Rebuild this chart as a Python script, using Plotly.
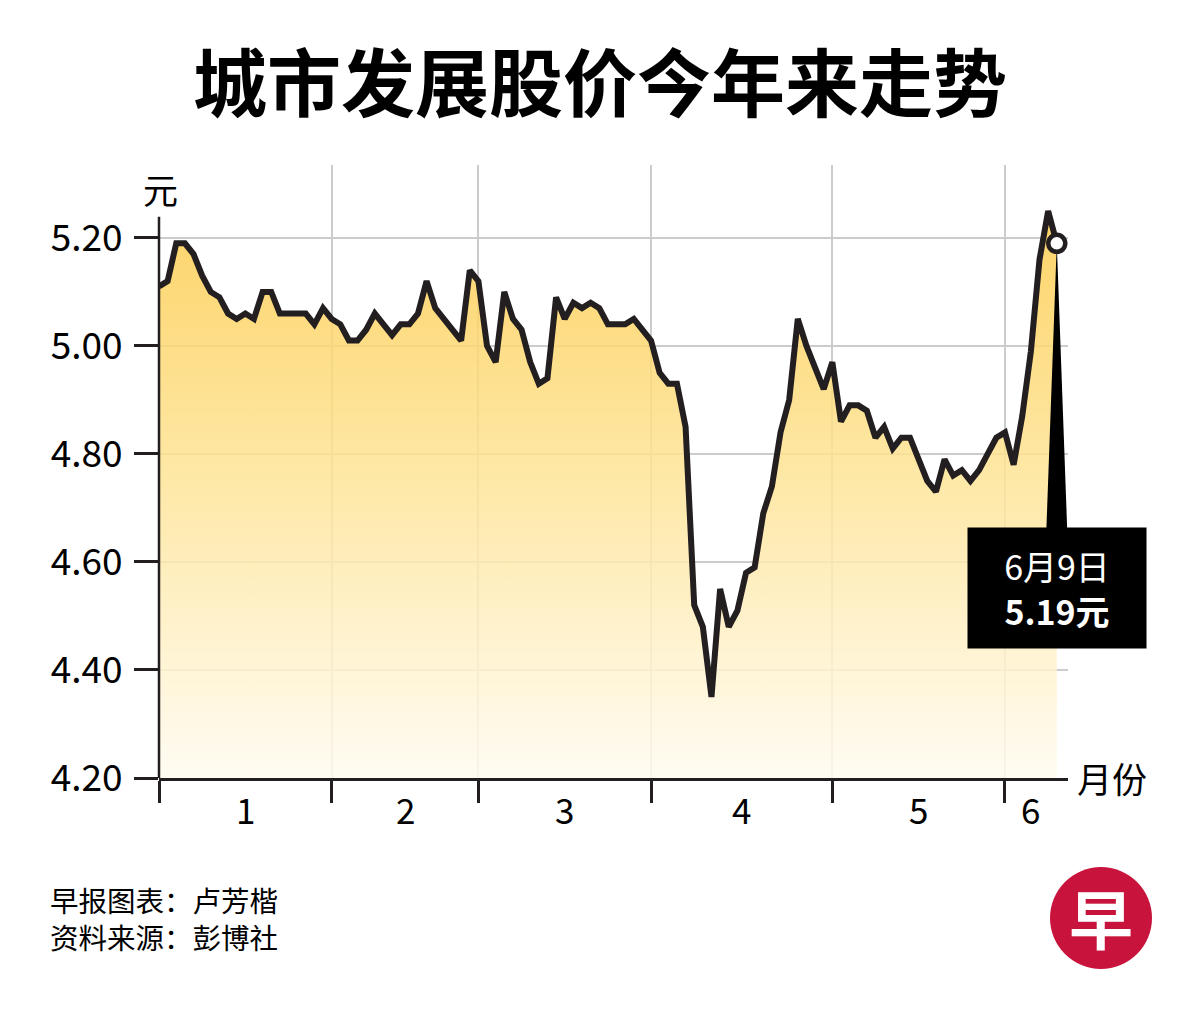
import plotly.graph_objects as go

# 城市发展 closing prices, one point per trading day
prices = [
    5.11, 5.12, 5.19, 5.19, 5.17, 5.13, 5.10, 5.09, 5.06, 5.05,
    5.06, 5.05, 5.10, 5.10, 5.06, 5.06, 5.06, 5.06, 5.04, 5.07,
    5.05, 5.04, 5.01, 5.01, 5.03, 5.06, 5.04, 5.02, 5.04, 5.04,
    5.06, 5.12, 5.07, 5.05, 5.03, 5.01, 5.14, 5.12, 5.00, 4.97,
    5.10, 5.05, 5.03, 4.97, 4.93, 4.94, 5.09, 5.05, 5.08, 5.07,
    5.08, 5.07, 5.04, 5.04, 5.04, 5.05, 5.03, 5.01, 4.95, 4.93,
    4.93, 4.85, 4.52, 4.48, 4.35, 4.55, 4.48, 4.51, 4.58, 4.59,
    4.69, 4.74, 4.84, 4.90, 5.05, 5.00, 4.96, 4.92, 4.97, 4.86,
    4.89, 4.89, 4.88, 4.83, 4.85, 4.81, 4.83, 4.83, 4.79, 4.75,
    4.73, 4.79, 4.76, 4.77, 4.75, 4.77, 4.80, 4.83, 4.84, 4.78,
    4.87, 4.99, 5.16, 5.25, 5.19,
]
days = list(range(len(prices)))

# index of the first trading day of each month
month_starts = [0, 20, 37, 57, 78, 98]
month_labels = ["1", "2", "3", "4", "5", "6"]

y_ticks = [4.20, 4.40, 4.60, 4.80, 5.00, 5.20]
last_date = "6月9日"

FONT = "Noto Sans CJK SC"
INK = "#231f20"

# the page puts the figure 8px in from the corner
OFF = 8
W, H = 1200, 1016
# plot area in page pixels, used to place the free text
L, R, T, B = 159, 1068, 165, 778


def px(x):
    return (x - L) / (R - L)


def py(y):
    return (B - y) / (B - T)


def note(text, x, y, size, **kw):
    fig.add_annotation(x=px(x), y=py(y), xref="paper", yref="paper",
                       text=text, showarrow=False,
                       xanchor=kw.pop("xanchor", "center"), yanchor="middle",
                       font=dict(family=FONT, size=size,
                                 color=kw.pop("color", "black")), **kw)


fig = go.Figure()

# invisible floor so the fill stops at 4.20
fig.add_trace(go.Scatter(x=days, y=[y_ticks[0]] * len(days), mode="lines",
                         line=dict(width=0), hoverinfo="skip", showlegend=False))

fig.add_trace(go.Scatter(
    x=days, y=prices, mode="lines",
    line=dict(color=INK, width=6),
    fill="tonexty",
    fillgradient=dict(type="vertical", start=4.2, stop=5.22,
                      colorscale=[[0, "rgba(255,251,240,0.85)"],
                                  [0.55, "rgba(254,228,150,0.85)"],
                                  [1, "rgba(252,205,82,0.85)"]]),
    showlegend=False,
))

# black pointer from the last point down to the label box
last_x, last_y = days[-1], prices[-1]
box_top, box_mid = 4.663, 4.552
fig.add_trace(go.Scatter(
    x=[last_x - 1.2, last_x, last_x + 1.2, last_x - 1.2],
    y=[box_top, last_y, box_top, box_top],
    mode="lines", fill="toself", fillcolor="black",
    line=dict(width=0), hoverinfo="skip", showlegend=False,
))

fig.add_trace(go.Scatter(
    x=[last_x], y=[last_y], mode="markers",
    marker=dict(size=17, color="white", line=dict(color=INK, width=4.5)),
    showlegend=False,
))

fig.add_annotation(
    x=last_x, y=box_mid, xref="x", yref="y",
    text=f"{last_date}<br><b>{last_y:.2f}元</b>",
    showarrow=False, bgcolor="black", width=170, height=112, borderpad=4,
    xanchor="center", yanchor="middle",
    font=dict(family=FONT, size=34, color="white"), align="center",
)

# month labels under each month
ends = month_starts[1:] + [days[-1]]
for s, e, lab in zip(month_starts, ends, month_labels):
    fig.add_annotation(x=(s + e) / 2, y=0, xref="x", yref="paper", yshift=-30,
                       text=lab, showarrow=False, xanchor="center",
                       yanchor="middle",
                       font=dict(family=FONT, size=35, color="black"))

# y axis line only runs a little above 5.20
fig.add_shape(type="line", xref="paper", yref="y", x0=0, x1=0,
              y0=y_ticks[0], y1=5.239, line=dict(color=INK, width=2.5))

note("元", 160, 189, 35)
note("月份", 1112, 777, 35)
note("早报图表：卢芳楷<br>资料来源：彭博社", 48, 918, 28.5,
     xanchor="left", align="left")

# logo
fig.add_shape(type="circle", xref="paper", yref="paper", layer="below",
              x0=px(1050), x1=px(1152), y0=py(969), y1=py(867),
              fillcolor="#c8143c", line=dict(width=0))
note("<b>早</b>", 1101, 916, 64, color="white")

fig.update_layout(
    width=W, height=H,
    margin=dict(l=L - OFF, r=W - (R - OFF), t=T - OFF, b=H - (B - OFF)),
    paper_bgcolor="white", plot_bgcolor="white",
    title=dict(text="<b>城市发展股价今年来走势</b>", x=(600 - OFF) / W,
               xanchor="center", y=1 - (85 - OFF) / H, yanchor="middle",
               yref="container",
               font=dict(family=FONT, size=74, color="black")),
    font=dict(family=FONT, color="black"),
)

fig.update_xaxes(
    range=[0, 105.3], tickvals=month_starts, showticklabels=False,
    ticks="outside", ticklen=22, tickwidth=2.5, tickcolor=INK,
    showgrid=False, zeroline=False,
    showline=True, linecolor=INK, linewidth=2.5,
    minor=dict(tickvals=month_starts[1:], showgrid=True,
               gridcolor="#cccccc", gridwidth=1.5),
)
fig.update_yaxes(
    range=[4.2, 5.335], tickvals=y_ticks, tickformat=".2f",
    ticks="outside", ticklen=24, tickwidth=2.5, tickcolor=INK,
    ticklabelstandoff=4,
    tickfont=dict(family=FONT, size=37, color="black"),
    showgrid=True, gridcolor="#cccccc", gridwidth=1.5,
    zeroline=False, showline=False,
)

fig.write_html("out.html")
